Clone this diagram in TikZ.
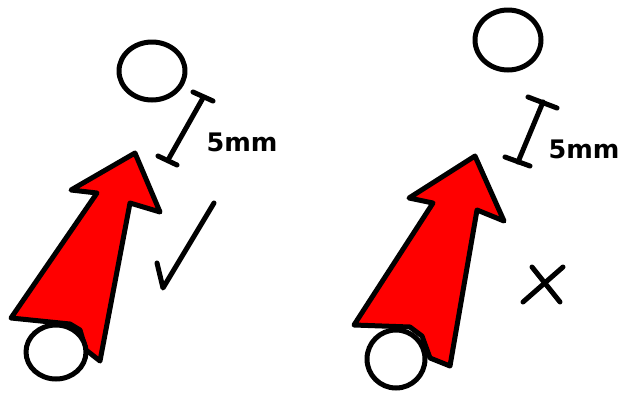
\documentclass[tikz,border=0pt]{standalone}
\usepackage{fontspec}
\usepackage{xcolor}
\usepackage{tikz}
\setmainfont{DejaVu Sans}
\definecolor{arrowred}{RGB}{255,0,0}

\begin{document}
\begin{tikzpicture}[x=1pt,y=-1pt,line width=5pt,line join=round,line cap=round]
  \useasboundingbox (0,0) rectangle (618,394);
  \tikzset{gap/.style={font=\fontsize{25.5}{26}\selectfont\bfseries,inner sep=0pt,anchor=west}}
  % left: enough clearance
  \draw (152,71) ellipse [x radius=33,y radius=29];
  \draw (203,98) -- (168,160);
  \draw (193,92) -- (213,101);
  \draw (158,156) -- (177,165);
  \node[gap] (gapL) at (204,142) {5mm};
  \draw[fill=arrowred] (135,153) -- (160,212) -- (130,203) -- (100,361)
    -- (86,350) -- (80,330) -- (70,324) -- (11,318) -- (97,193) -- (71,190) -- cycle;
  \draw[fill=white] (56,352) ellipse [x radius=30,y radius=27];
  \draw (157,263) -- (163,288) -- (214,203);
  % right: too close
  \draw (508,40) ellipse [x radius=33,y radius=30];
  \draw (543,102) -- (518,162);
  \draw (528,97) -- (557,108);
  \draw (505,157) -- (530,166);
  \node[gap] (gapR) at (546,149) {5mm};
  \draw[fill=arrowred] (475,156) -- (504,221) -- (477,210) -- (450,366)
    -- (430,358) -- (422,336) -- (410,327) -- (354,325) -- (433,203) -- (409,198) -- cycle;
  \draw[fill=white] (396,359) ellipse [x radius=29,y radius=29];
  \draw (532,267) -- (560,302);
  \draw (563,267) -- (523,302);
\end{tikzpicture}
\end{document}
